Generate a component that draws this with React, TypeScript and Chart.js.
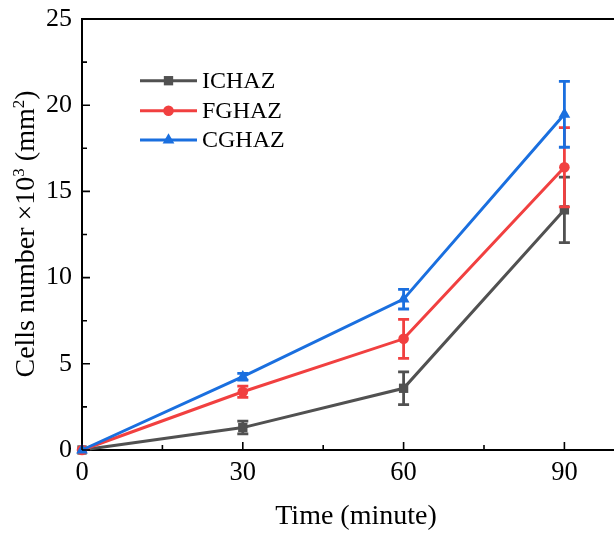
import React, { useEffect, useRef } from 'react';
import { Chart, registerables } from 'chart.js';
Chart.register(...registerables);

const times = [0, 30, 60, 90];
const seriesNames = ['ICHAZ', 'FGHAZ', 'CGHAZ'];
const ichaz = [0, 1.3, 3.58, 13.93];
const ichazErr = [0, 0.37, 0.95, 1.9];
const fghaz = [0, 3.38, 6.45, 16.4];
const fghazErr = [0, 0.33, 1.13, 2.3];
const cghaz = [0, 4.25, 8.75, 19.47];
const cghazErr = [0, 0.2, 0.57, 1.91];
const xTicks = [0, 30, 60, 90];
const xMinorTicks = [15, 45, 75];
const yTicks = [0, 5, 10, 15, 20, 25];
const yMinorTicks = [2.5, 7.5, 12.5, 17.5, 22.5];
const colors = ['#515151', '#F14040', '#1A6FDF'];
const pointStyles = ['rect', 'circle', 'triangle'];
const pointRadii = [6.6, 5.3, 6.8];
const errs = [ichazErr, fghazErr, cghazErr];

const FONT = '"Liberation Serif", "Times New Roman", serif';

const W = 640;
const H = 533;

function drawMarker(ctx: CanvasRenderingContext2D, style: string, x: number, y: number, r: number) {
  ctx.beginPath();
  if (style === 'rect') {
    const s = Math.SQRT1_2 * r;
    ctx.rect(x - s, y - s, 2 * s, 2 * s);
  } else if (style === 'circle') {
    ctx.arc(x, y, r, 0, Math.PI * 2);
  } else {
    ctx.moveTo(x, y - r);
    ctx.lineTo(x + r * Math.sin(Math.PI / 3), y + r * 0.5);
    ctx.lineTo(x - r * Math.sin(Math.PI / 3), y + r * 0.5);
    ctx.closePath();
  }
  ctx.fill();
}

const framePlugin = {
  id: 'frame',
  afterDatasetDraw(chart: any, args: any) {
    const i = args.index;
    const meta = args.meta;
    const ctx = chart.ctx;
    const y = chart.scales.y;
    const e = errs[i];
    const vals = chart.data.datasets[i].data;
    ctx.save();
    ctx.strokeStyle = colors[i];
    ctx.lineWidth = 2.8;
    meta.data.forEach((pt: any, k: number) => {
      if (!e[k]) return;
      const v = vals[k].y;
      const px = pt.x;
      const top = y.getPixelForValue(v + e[k]);
      const bot = y.getPixelForValue(v - e[k]);
      ctx.beginPath();
      ctx.moveTo(px, top);
      ctx.lineTo(px, bot);
      ctx.moveTo(px - 5.5, top);
      ctx.lineTo(px + 5.5, top);
      ctx.moveTo(px - 5.5, bot);
      ctx.lineTo(px + 5.5, bot);
      ctx.stroke();
    });
    ctx.restore();
  },
  afterDraw(chart: any) {
    const ctx = chart.ctx;
    const { left, right, top, bottom } = chart.chartArea;
    const xs = chart.scales.x;
    const ys = chart.scales.y;
    ctx.save();
    ctx.strokeStyle = '#000';
    ctx.lineWidth = 2;
    ctx.beginPath();
    ctx.moveTo(left - 1, top);
    ctx.lineTo(right + 20, top);
    ctx.stroke();
    ctx.lineWidth = 1.6;
    ctx.beginPath();
    xTicks.forEach((v) => {
      const p = xs.getPixelForValue(v);
      ctx.moveTo(p, bottom);
      ctx.lineTo(p, bottom - 8);
    });
    xMinorTicks.forEach((v) => {
      const p = xs.getPixelForValue(v);
      ctx.moveTo(p, bottom);
      ctx.lineTo(p, bottom - 5);
    });
    yTicks.forEach((v) => {
      const p = ys.getPixelForValue(v);
      ctx.moveTo(left, p);
      ctx.lineTo(left + 8, p);
    });
    yMinorTicks.forEach((v) => {
      const p = ys.getPixelForValue(v);
      ctx.moveTo(left, p);
      ctx.lineTo(left + 5, p);
    });
    ctx.stroke();

    // legend
    const rows = [80.7, 110.7, 140];
    seriesNames.forEach((name, i) => {
      const yy = rows[i];
      ctx.strokeStyle = colors[i];
      ctx.lineWidth = 3;
      ctx.beginPath();
      ctx.moveTo(140, yy);
      ctx.lineTo(197, yy);
      ctx.stroke();
      ctx.fillStyle = colors[i];
      drawMarker(ctx, pointStyles[i], 168.5, yy, pointRadii[i]);
      ctx.fillStyle = '#000';
      ctx.font = `24px ${FONT}`;
      ctx.textAlign = 'left';
      ctx.textBaseline = 'middle';
      ctx.fillText(name, 202, yy + 1);
    });

    // x title
    ctx.fillStyle = '#000';
    ctx.font = `28px ${FONT}`;
    ctx.textAlign = 'center';
    ctx.textBaseline = 'alphabetic';
    ctx.fillText('Time (minute)', 356, 524);

    // y title with superscripts
    const segs = [
      { t: 'Cells number \u00d710', sup: false },
      { t: '3', sup: true },
      { t: ' (mm', sup: false },
      { t: '2', sup: true },
      { t: ')', sup: false },
    ];
    const mainF = `28px ${FONT}`;
    const supF = `17px ${FONT}`;
    let total = 0;
    segs.forEach((s) => {
      ctx.font = s.sup ? supF : mainF;
      total += ctx.measureText(s.t).width;
    });
    ctx.translate(34, 234);
    ctx.rotate(-Math.PI / 2);
    ctx.textAlign = 'left';
    let cx = -total / 2;
    segs.forEach((s) => {
      ctx.font = s.sup ? supF : mainF;
      ctx.fillText(s.t, cx, s.sup ? -10 : 0);
      cx += ctx.measureText(s.t).width;
    });
    ctx.restore();
  },
};

export default function App() {
  const ref = useRef<HTMLCanvasElement | null>(null);
  useEffect(() => {
    if (!ref.current) return;
    const series = [ichaz, fghaz, cghaz];
    const chart = new Chart(ref.current, {
      type: 'line',
      data: {
        datasets: series.map((vals, i) => ({
          label: seriesNames[i],
          data: times.map((t, k) => ({ x: t, y: vals[k] })),
          borderColor: colors[i],
          backgroundColor: colors[i],
          borderWidth: 3,
          pointStyle: pointStyles[i] as any,
          pointRadius: pointRadii[i],
          pointBorderWidth: 0,
          pointBackgroundColor: colors[i],
          tension: 0,
          order: 3 - i,
          clip: false as any,
        })),
      },
      options: {
        responsive: false,
        animation: false,
        devicePixelRatio: 1,
        layout: { padding: { left: 0, top: 19, right: W - 618, bottom: 0 } },
        plugins: {
          legend: { display: false },
          tooltip: { enabled: false },
        },
        scales: {
          x: {
            type: 'linear',
            min: 0,
            max: 100,
            afterBuildTicks: (s: any) => {
              s.ticks = xTicks.map((v) => ({ value: v }));
            },
            afterFit: (s: any) => {
              s.height = H - 450;
              s.paddingLeft = 0;
              s.paddingRight = 0;
            },
            grid: { display: false, drawTicks: false },
            border: { display: true, color: '#000', width: 2 },
            ticks: {
              color: '#000',
              font: { family: FONT, size: 26.5 },
              padding: 7,
              maxRotation: 0,
            },
          },
          y: {
            type: 'linear',
            min: 0,
            max: 25,
            afterBuildTicks: (s: any) => {
              s.ticks = yTicks.map((v) => ({ value: v }));
            },
            afterFit: (s: any) => {
              s.width = 82;
              s.paddingTop = 0;
              s.paddingBottom = 0;
            },
            grid: { display: false, drawTicks: false },
            border: { display: true, color: '#000', width: 2 },
            ticks: {
              color: '#000',
              font: { family: FONT, size: 26 },
              padding: 10,
            },
          },
        },
      },
      plugins: [framePlugin],
    });
    return () => chart.destroy();
  }, []);
  return (
    <div style={{ position: 'absolute', left: 0, top: 0, width: 614, height: 533, overflow: 'hidden', background: '#fff' }}>
      <canvas ref={ref} width={W} height={H} style={{ width: W, height: H, display: 'block' }} />
    </div>
  );
}
